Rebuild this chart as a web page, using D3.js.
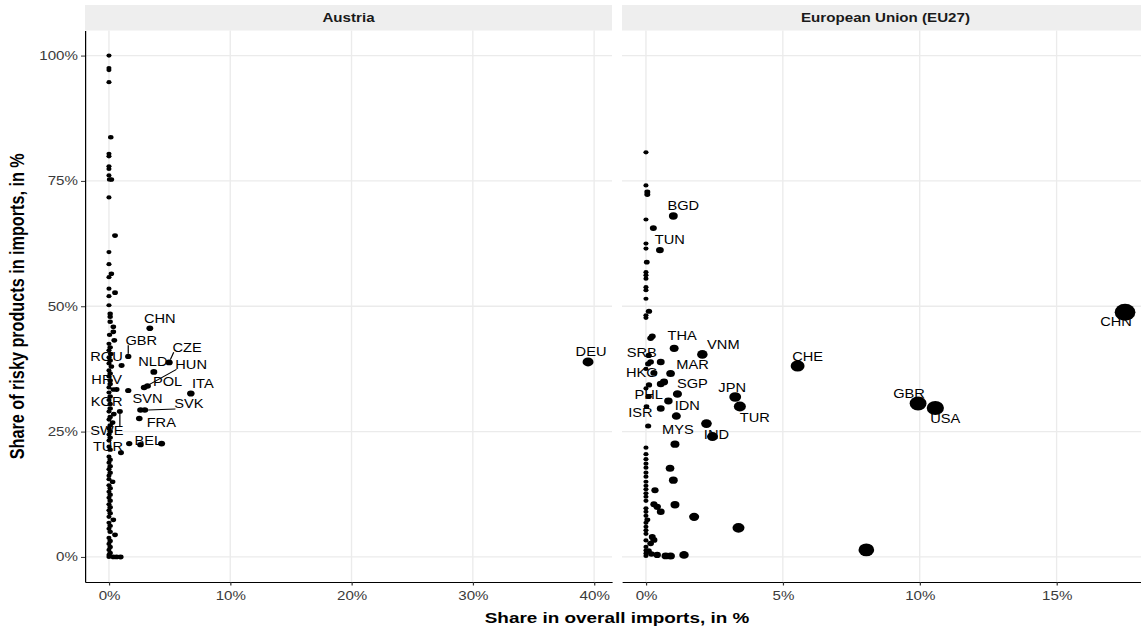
<!DOCTYPE html>
<html>
<head>
<meta charset="utf-8">
<script src="https://cdn.jsdelivr.net/npm/d3@7"></script>
<style>
  html, body { margin: 0; padding: 0; background: #fff; }
  svg { display: block; font-family: "Liberation Sans", Arial, Helvetica, sans-serif; }
</style>
</head>
<body>
<svg id="chart"></svg>
<script>
// ---- data: [code, share in overall imports, share of risky products] ----
const xTicksAT = [0, 0.1, 0.2, 0.3, 0.4];
const xTicksEU = [0, 0.05, 0.10, 0.15];
const yTicks = [0, 0.25, 0.5, 0.75, 1];

const atLabelled = [
  ["DEU", 0.395, 0.389], ["CHN", 0.0337, 0.456], ["GBR", 0.0159, 0.400], ["CZE", 0.0496, 0.388],
  ["NLD", 0.037, 0.369], ["HUN", 0.029, 0.338], ["POL", 0.0318, 0.341], ["ITA", 0.0675, 0.326],
  ["SVN", 0.026, 0.293], ["SVK", 0.0296, 0.293], ["FRA", 0.025, 0.276], ["BEL", 0.0167, 0.226],
  ["ROU", 0.0104, 0.382], ["HRV", 0.001, 0.352], ["KOR", 0.001, 0.305], ["SWE", 0.009, 0.290],
  ["TUR", 0.0099, 0.208]
];
const atOther = [
  [0, 1.0], [0, 0.975], [0, 0.971], [0, 0.947], [0.0015, 0.837], [0, 0.804], [0, 0.799], [0, 0.779],
  [0, 0.774], [0, 0.761], [0.0005, 0.753], [0.002, 0.753], [0, 0.717], [0.005, 0.641], [0, 0.608],
  [0, 0.584], [0.002, 0.565], [0, 0.558], [0, 0.535], [0.005, 0.527], [0, 0.520], [0, 0.502],
  [0.001, 0.485], [0.001, 0.479], [0.001, 0.469], [0.0036, 0.459], [0.0036, 0.449], [0.0005, 0.443],
  [0.0044, 0.432], [0, 0.425], [0.001, 0.418], [0, 0.412], [0.0015, 0.405], [0, 0.398], [0.001, 0.392],
  [0, 0.386], [0.002, 0.380], [0, 0.372], [0.001, 0.366], [0, 0.360], [0.001, 0.345], [0, 0.338],
  [0.0036, 0.334], [0.0063, 0.334], [0.0159, 0.332], [0, 0.328], [0.001, 0.320], [0, 0.313],
  [0.001, 0.296], [0, 0.290], [0.004, 0.285], [0.001, 0.279], [0, 0.274], [0.003, 0.268], [0.001, 0.262],
  [0, 0.256], [0.001, 0.250], [0, 0.244], [0.001, 0.238], [0, 0.232], [0.0434, 0.226], [0.026, 0.224],
  [0, 0.220], [0.001, 0.214], [0, 0.200], [0.001, 0.194], [0, 0.188], [0.001, 0.181], [0, 0.175],
  [0.001, 0.168], [0, 0.162], [0, 0.155], [0.003, 0.150], [0, 0.143], [0.001, 0.137], [0, 0.130],
  [0.001, 0.124], [0, 0.118], [0.001, 0.112], [0, 0.105], [0.001, 0.099], [0, 0.093], [0.001, 0.087],
  [0, 0.080], [0.0036, 0.074], [0, 0.068], [0.001, 0.062], [0, 0.056], [0.001, 0.050], [0.005, 0.044],
  [0, 0.038], [0.001, 0.032], [0, 0.026], [0.001, 0.020], [0, 0.014], [0.001, 0.008], [0, 0.004],
  [0, 0], [0.0036, 0], [0.0063, 0], [0.0096, 0]
];

const euLabelled = [
  ["BGD", 0.010, 0.680], ["TUN", 0.0051, 0.612], ["THA", 0.0103, 0.416], ["VNM", 0.0206, 0.404],
  ["SRB", 0.001, 0.402], ["HKG", 0.0029, 0.367], ["MAR", 0.009, 0.366], ["SGP", 0.0115, 0.325],
  ["PHL", 0.001, 0.320], ["ISR", 0.0002, 0.300], ["IDN", 0.0111, 0.281], ["MYS", 0.0106, 0.225],
  ["JPN", 0.0326, 0.319], ["TUR", 0.0343, 0.300], ["IND", 0.0243, 0.240], ["CHE", 0.0554, 0.381],
  ["GBR", 0.0994, 0.306], ["USA", 0.1057, 0.297], ["CHN", 0.175, 0.488]
];
const euOther = [
  [0, 0.807], [0, 0.741], [0.0005, 0.728], [0.0005, 0.723], [0, 0.673], [0.0027, 0.656], [0, 0.625],
  [0, 0.615], [0.0003, 0.588], [0, 0.568], [0, 0.562], [0, 0.555], [0, 0.538], [0, 0.532], [0, 0.515],
  [0.0011, 0.490], [0, 0.482], [0, 0.477], [0.0023, 0.440], [0.0017, 0.436], [0.0017, 0.389],
  [0.0054, 0.389], [0.0008, 0.385], [0, 0.375], [0.0054, 0.345], [0.0066, 0.349], [0.0011, 0.343],
  [0, 0.336], [0.0082, 0.311], [0.0054, 0.296], [0.0008, 0.261], [0.0221, 0.266],
  [0, 0.218], [0, 0.205], [0, 0.195], [0, 0.186], [0, 0.178], [0.0088, 0.177], [0, 0.168], [0, 0.160],
  [0.010, 0.153], [0, 0.150], [0, 0.142], [0.0033, 0.133], [0, 0.135], [0, 0.127], [0, 0.120],
  [0, 0.112], [0.0029, 0.105], [0.0041, 0.100], [0.0106, 0.104], [0, 0.097], [0.0054, 0.090],
  [0, 0.090], [0.0176, 0.080], [0, 0.082], [0.0005, 0.074], [0, 0.068], [0, 0.060], [0.0338, 0.058],
  [0, 0.053], [0, 0.046], [0.0023, 0.040], [0.0029, 0.034], [0, 0.033], [0.0017, 0.027], [0, 0.020],
  [0.001, 0.012], [0, 0.013], [0.002, 0.006], [0, 0.007], [0, 0.002], [0.0041, 0.004], [0.0072, 0.002],
  [0.009, 0.002], [0.0139, 0.004], [0.0805, 0.014]
];

// ---- label placement (as the repel step left it, offsets in screen px) ----
const nudgeAT = {
  DEU: [3, -10], CHN: [10, -10], GBR: [13, -16], CZE: [18, -15], NLD: [-1, -10], HUN: [47, -23],
  POL: [20, -4], ITA: [12, -10], SVN: [7, -11], SVK: [44, -6], FRA: [22, 4], BEL: [19, -3],
  ROU: [-15, -9], HRV: [-3.5, -1], KOR: [-3.5, -2], SWE: [-13, 19], TUR: [-13, -6]
};
const nudgeEU = {
  BGD: [10, -10], TUN: [10, -10], THA: [8, -13], VNM: [21, -10], SRB: [-7, -3], HKG: [-12, 0],
  MAR: [22, -9], SGP: [15, -10], PHL: [0, -2], ISR: [-6, 6], IDN: [11, -10], MYS: [3, -14],
  JPN: [-3, -9], TUR: [15, 11], IND: [4, -2], CHE: [10, -9], GBR: [-9, -10], USA: [10, 11], CHN: [-9, 10]
};
const segAT = ["GBR", "CZE", "HUN", "SVK", "SWE"];

// the source image is stretched horizontally; draw in unstretched units
const SX = 1.22;
const W = 1141 / SX, H = 629;
const plotTop = 30.5, plotBottom = 582;

const svg = d3.select('#chart')
  .attr('width', 1141).attr('height', H)
  .attr('viewBox', `0 0 ${W} ${H}`)
  .attr('preserveAspectRatio', 'none');

function expand(ext) {
  const r = ext[1] - ext[0];
  return [ext[0] - 0.05 * r, ext[1] + 0.05 * r];
}

const allY = atLabelled.map(d => d[2]).concat(atOther.map(d => d[1]), euLabelled.map(d => d[2]), euOther.map(d => d[1]));
const y = d3.scaleLinear().domain(expand(d3.extent(allY))).range([plotBottom, plotTop]);

const panels = [
  { title: "Austria", labelled: atLabelled, other: atOther, ticks: xTicksAT, box: [85, 612], rMax: 4.5, nudge: nudgeAT, seg: segAT, yAxis: true },
  { title: "European Union (EU27)", labelled: euLabelled, other: euOther, ticks: xTicksEU, box: [622, 1149], rMax: 8.5, nudge: nudgeEU, seg: [], yAxis: false }
];

panels.forEach(p => {
  const x0 = p.box[0] / SX, x1 = p.box[1] / SX;
  const pts = p.other.map(d => ({ code: null, x: d[0], y: d[1] }))
    .concat(p.labelled.map(d => ({ code: d[0], x: d[1], y: d[2] })));
  const x = d3.scaleLinear().domain(expand(d3.extent(pts, d => d.x))).range([x0, x1]);
  const r = d3.scaleSqrt().domain([0, d3.max(pts, d => d.x)]).range([2.1, p.rMax]);

  const g = svg.append('g');

  // strip
  g.append('rect').attr('x', x0).attr('y', 5).attr('width', x1 - x0).attr('height', plotTop - 5).attr('fill', '#eeeeee');
  g.append('text').attr('x', (x0 + x1) / 2).attr('y', 18).attr('dy', '0.35em')
    .attr('text-anchor', 'middle').attr('font-size', 12.4).attr('font-weight', 'bold').attr('fill', '#1a1a1a')
    .text(p.title);

  // grid
  g.append('g').selectAll('line').data(p.ticks).join('line')
    .attr('x1', d => x(d)).attr('x2', d => x(d)).attr('y1', plotTop).attr('y2', plotBottom)
    .attr('stroke', '#ebebeb').attr('stroke-width', 1.1);
  g.append('g').selectAll('line').data(yTicks).join('line')
    .attr('x1', x0).attr('x2', x1).attr('y1', d => y(d)).attr('y2', d => y(d))
    .attr('stroke', '#ebebeb').attr('stroke-width', 1.3);

  // axes
  const xa = g.append('g').attr('transform', `translate(0,${plotBottom})`)
    .call(d3.axisBottom(x).tickValues(p.ticks).tickFormat(d3.format('.0%')).tickSize(3.5).tickSizeOuter(0).tickPadding(6));
  xa.attr('font-family', null);
  xa.select('.domain').attr('stroke', '#000').attr('stroke-width', 1.1);
  xa.selectAll('.tick line').attr('stroke', '#333');
  xa.selectAll('text').attr('font-size', 12.4).attr('fill', '#3a3a3a');

  if (p.yAxis) {
    const ya = g.append('g').attr('transform', `translate(${x0},0)`)
      .call(d3.axisLeft(y).tickValues(yTicks).tickFormat(d3.format('.0%')).tickSize(3.3).tickSizeOuter(0).tickPadding(2.5));
    ya.attr('font-family', null);
    ya.select('.domain').attr('stroke', '#000').attr('stroke-width', 1);
    ya.selectAll('.tick line').attr('stroke', '#333');
    ya.selectAll('text').attr('font-size', 12.4).attr('fill', '#3a3a3a');
  }

  // points
  g.append('g').selectAll('circle').data(pts).join('circle')
    .attr('cx', d => x(d.x)).attr('cy', d => y(d.y)).attr('r', d => r(d.x))
    .attr('fill', '#000');

  // labels
  const lab = g.append('g');
  const segs = g.append('g');
  pts.filter(d => d.code).forEach(d => {
    const [dx, dy] = p.nudge[d.code];
    const px = x(d.x), py = y(d.y);
    const t = lab.append('text')
      .attr('x', px + dx / SX).attr('y', py + dy).attr('dy', '0.35em')
      .attr('text-anchor', 'middle').attr('font-size', 12).attr('fill', '#000')
      .text(d.code);
    if (p.seg.includes(d.code)) {
      const b = t.node().getBBox();
      const bx = Math.max(b.x + 1, Math.min(px, b.x + b.width - 1));
      const by = Math.max(b.y + 2, Math.min(py, b.y + b.height - 2));
      const len = Math.hypot(bx - px, by - py);
      const k = r(d.x) / len;
      segs.append('line')
        .attr('x1', px + (bx - px) * k).attr('y1', py + (by - py) * k)
        .attr('x2', bx).attr('y2', by)
        .attr('stroke', '#000').attr('stroke-width', 1);
    }
  });
});

// axis titles
svg.append('text')
  .attr('transform', `translate(${23.5 / SX},${(plotTop + plotBottom) / 2}) rotate(-90)`)
  .attr('text-anchor', 'middle').attr('font-size', 16.2).attr('font-weight', 'bold').attr('fill', '#000')
  .text('Share of risky products in imports, in %');
svg.append('text')
  .attr('x', (85 + 1149) / 2 / SX).attr('y', 623)
  .attr('text-anchor', 'middle').attr('font-size', 15.5).attr('font-weight', 'bold').attr('fill', '#000')
  .text('Share in overall imports, in %');
</script>
</body>
</html>
